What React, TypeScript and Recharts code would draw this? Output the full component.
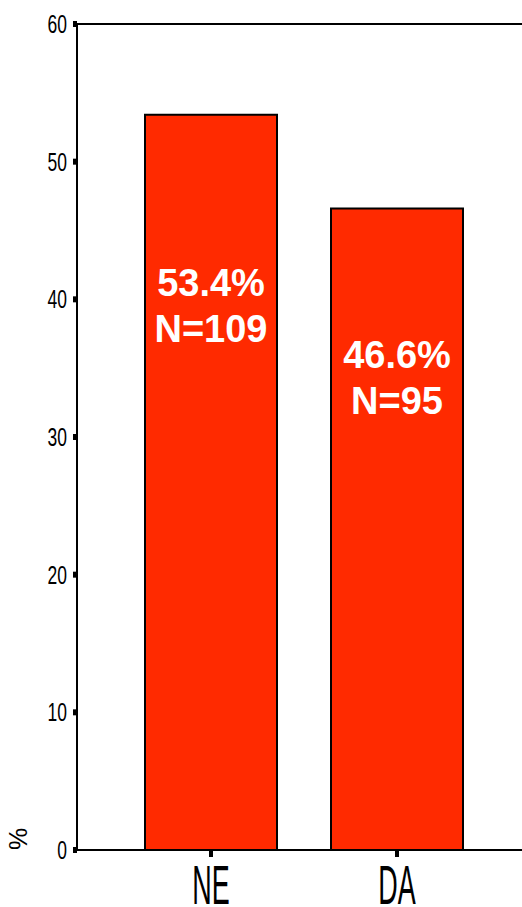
import React from 'react';
import { BarChart, Bar, XAxis, YAxis, ReferenceLine, LabelList } from 'recharts';

const categories = ['NE', 'DA'];
const percents = [53.4, 46.6];
const counts = [109, 95];
const yTicks = [0, 10, 20, 30, 40, 50, 60];

const data = categories.map((c, i) => ({ name: c, pct: percents[i], n: counts[i] }));

const FONT = '"Liberation Sans", Arial, Helvetica, sans-serif';

const YTick = (props: any) => {
  const { x, y, payload } = props;
  return (
    <g transform={`translate(${x - 4},${y + 9}) scale(0.7,1)`}>
      <text x={0} y={0} textAnchor="end" fontSize={25} fontFamily={FONT} fill="#000">
        {payload.value}
      </text>
    </g>
  );
};

const XTick = (props: any) => {
  const { x, y, payload } = props;
  return (
    <g transform={`translate(${x},${y + 45}) scale(0.49,1)`}>
      <text x={0} y={0} textAnchor="middle" fontSize={55} fontFamily={FONT} fill="#000">
        {payload.value}
      </text>
    </g>
  );
};

const BarLabel = (props: any) => {
  const { x, y, width, height, index } = props;
  const cx = x + width / 2;
  const line1 = y + height * 0.227;
  return (
    <g>
      <text x={cx} y={line1 + 14} textAnchor="middle" fontSize={38} fontWeight="bold" fontFamily={FONT} fill="#fff">
        {`${percents[index].toFixed(1)}%`}
      </text>
      <text x={cx} y={line1 + 60} textAnchor="middle" fontSize={38} fontWeight="bold" fontFamily={FONT} fill="#fff">
        {`N=${counts[index]}`}
      </text>
    </g>
  );
};

const YLabel = (props: any) => {
  const { viewBox } = props;
  const cx = viewBox.x + 19.5;
  const cy = viewBox.y + viewBox.height - 11;
  return (
    <g transform={`translate(${cx + 7.5},${cy}) rotate(-90)`}>
      <text x={0} y={0} textAnchor="middle" fontSize={25} fontFamily={FONT} fill="#000">
        %
      </text>
    </g>
  );
};

export default function App() {
  return (
    <div style={{ position: 'absolute', left: 0, top: 0, width: 522, height: 907, background: '#fff' }}>
      <BarChart
        width={522}
        height={907}
        data={data}
        margin={{ top: 24, right: 0, bottom: 0, left: 0 }}
        barCategoryGap={0}
      >
        <XAxis
          dataKey="name"
          height={57}
          padding={{ left: 41, right: 32 }}
          axisLine={{ stroke: '#000', strokeWidth: 2 }}
          tickLine={{ stroke: '#000', strokeWidth: 4 }}
          tickSize={7}
          tick={<XTick />}
          interval={0}
        />
        <YAxis
          width={77}
          domain={[0, 60]}
          ticks={yTicks}
          allowDataOverflow
          axisLine={{ stroke: '#000', strokeWidth: 2 }}
          tickLine={{ stroke: '#000', strokeWidth: 6 }}
          tickSize={4}
          tick={<YTick />}
          label={<YLabel />}
        />
        <ReferenceLine y={60} stroke="#000" strokeWidth={2} ifOverflow="extendDomain" />
        <Bar dataKey="pct" fill="#ff2a00" stroke="#000" strokeWidth={2} barSize={132} isAnimationActive={false}>
          <LabelList dataKey="pct" content={<BarLabel />} />
        </Bar>
      </BarChart>
    </div>
  );
}
